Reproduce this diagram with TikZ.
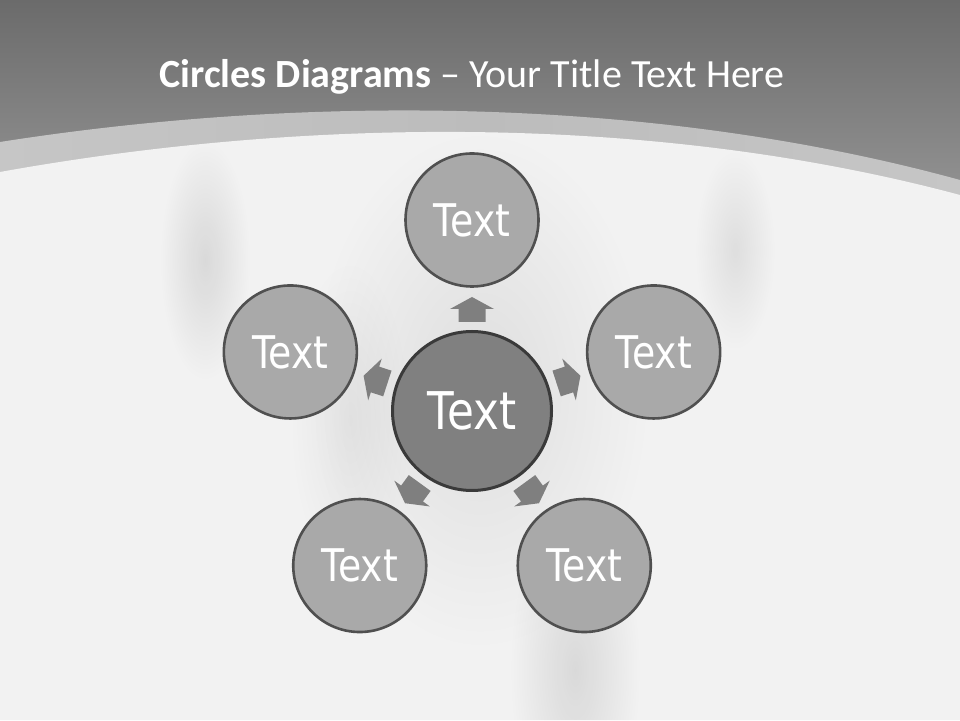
\documentclass[tikz,border=0pt]{standalone}
\usepackage{fontspec}
\setmainfont{Carlito}
\newfontfamily\circlefont[FakeStretch=0.84]{DejaVu Sans}
\usetikzlibrary{calc, fadings, shapes}
\definecolor{banddark}{HTML}{6B6B6B}
\definecolor{bandlight}{HTML}{939393}
\definecolor{stripeside}{HTML}{C6C6C6}
\definecolor{stripemid}{HTML}{BCBCBC}
\definecolor{paper}{HTML}{F2F2F2}
\definecolor{hubfill}{HTML}{808080}
\definecolor{hubline}{HTML}{3A3A3A}
\definecolor{satfill}{HTML}{A9A9A9}
\definecolor{satline}{HTML}{505050}
\definecolor{pointergray}{HTML}{7F7F7F}
\tikzfading[name=softblob, inner color=transparent!0, outer color=transparent!100]
\tikzset{
  x=1pt, y=1pt,
  hub/.style={circle, draw=hubline, line width=3pt, fill=hubfill, minimum size=159pt, inner sep=0pt, text=white, font=\circlefont\fontsize{52}{60}\selectfont},
  sat/.style={circle, draw=satline, line width=2.6pt, fill=satfill, minimum size=133pt, inner sep=0pt, text=white, font=\circlefont\fontsize{45}{52}\selectfont},
  pointer/.style={fill=pointergray},
  smudge/.style={fill=black, path fading=softblob},
  titletext/.style={anchor=base, text=white, font=\fontsize{40}{48}\selectfont}
}

\begin{document}
\begin{tikzpicture}
  \useasboundingbox (0,0) rectangle (960,720);

  % header band
  \shade[top color=banddark, bottom color=bandlight] (0,520) rectangle (960,720);
  \shade[left color=stripeside, right color=stripeside, middle color=stripemid]
    (0,578) .. controls (300,625) and (650,625) .. (960,540) -- (960,500) -- (0,500) -- cycle;
  \fill[paper] (0,548) .. controls (300,602) and (650,608) .. (960,525) -- (960,0) -- (0,0) -- cycle;

  % soft shadows on the paper
  \begin{scope}
    \clip (0,548) .. controls (300,602) and (650,608) .. (960,525) -- (960,0) -- (0,0) -- cycle;
    \fill[smudge, opacity=0.10] (205,460) ellipse (45 and 120);
    \fill[smudge, opacity=0.08] (735,470) ellipse (40 and 100);
    \fill[smudge, opacity=0.08] (480,330) ellipse (170 and 260);
    \fill[smudge, opacity=0.05] (350,300) ellipse (60 and 160);
    \fill[smudge, opacity=0.10] (575,50) ellipse (65 and 170);
  \end{scope}

  \node[titletext] (title) at (472,632) {\textbf{Circles Diagrams} – Your Title Text Here};

  % hub, satellites and pointers
  \node[hub] (hub) at (472,309) {Text};
  \foreach \a [count=\i] in {90,162,234,306,18} {
    \node[sat] (sat\i) at ($(hub.center)+(\a:191)$) {Text};
    \fill[pointer, shift={(hub.center)}, rotate=\a]
      (89,-13.5) -- (102,-13.5) -- (102,-22) -- (114,0) -- (102,22) -- (102,13.5) -- (89,13.5) -- cycle;
  }
\end{tikzpicture}
\end{document}
